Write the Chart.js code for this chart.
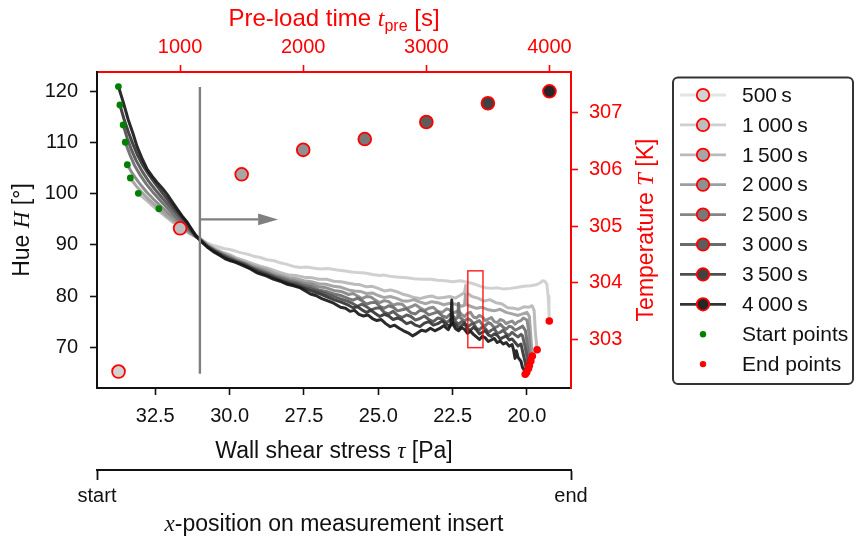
<!DOCTYPE html>
<html>
<head>
<meta charset="utf-8">
<script src="https://cdn.jsdelivr.net/npm/chart.js@4.4.1/dist/chart.umd.min.js"></script>
<style>
html,body{margin:0;padding:0;background:#fff;}
canvas{display:block;}
</style>
</head>
<body>
<canvas id="c" width="856" height="540"></canvas>
<script>
// ---------------- DATA ----------------
const preloadTimes = [500, 1000, 1500, 2000, 2500, 3000, 3500, 4000];
const temperatures = [302.44, 304.96, 305.91, 306.34, 306.53, 306.83, 307.16, 307.37];

const tauTicks = [32.5, 30.0, 27.5, 25.0, 22.5, 20.0];
const hueTicks = [70, 80, 90, 100, 110, 120];
const timeTicks = [1000, 2000, 3000, 4000];
const tempTicks = [303, 304, 305, 306, 307];
const posTicks = [0, 1];
const posLabels = ['start', 'end'];

// Hue curves: [wall shear stress tau (Pa), hue H (deg)]
const curve500 = [[32.38,97.1],[32.15,96.0],[31.9,94.9],[31.66,93.8],[31.4,92.6],[31.15,91.7],[31.0,91.2],[30.8,90.5],[30.6,90.0],[30.42,89.7],[30.2,89.3],[30.0,89.1],[29.8,88.8],[29.64,88.5],[29.4,88.2],[29.2,87.8],[29.0,87.6],[28.74,87.1],[28.5,86.9],[28.3,86.5],[28.07,86.2],[27.85,85.8],[27.62,85.6],[27.4,85.7],[27.2,85.5],[26.95,85.3],[26.7,85.4],[26.38,85.1],[26.1,84.9],[25.9,84.7],[25.71,84.6],[25.45,84.5],[25.2,84.2],[24.95,84.0],[24.82,84.1],[24.55,83.8],[24.3,83.7],[24.03,83.6],[23.8,83.4],[23.5,83.3],[23.24,83.3],[23.0,83.1],[22.75,83.0],[22.5,82.8],[22.25,83.0],[22.0,82.7],[21.8,82.4],[21.6,82.0],[21.4,81.6],[21.22,81.5],[21.0,81.6],[20.8,81.4],[20.55,81.5],[20.3,81.7],[20.1,81.9],[19.88,82.0],[19.7,82.2],[19.55,82.6],[19.48,83.0],[19.4,82.9],[19.33,82.3],[19.29,80.0],[19.26,77.0],[19.25,75.1]];
const curve1000 = [[33.07,100.1],[32.85,99.0],[32.6,97.7],[32.35,96.5],[32.1,95.3],[31.85,94.2],[31.6,93.2],[31.35,92.2],[31.15,91.7],[31.0,91.3],[30.75,90.2],[30.5,89.3],[30.25,88.6],[30.0,88.1],[29.75,87.4],[29.5,86.9],[29.25,86.4],[29.0,85.9],[28.75,85.5],[28.5,85.0],[28.25,84.5],[28.0,84.1],[27.75,84.0],[27.5,83.7],[27.25,83.6],[27.0,83.3],[26.75,83.3],[26.5,82.9],[26.25,82.8],[26.0,82.5],[25.8,82.3],[25.6,82.2],[25.4,81.8],[25.2,81.9],[25.0,81.5],[24.8,81.0],[24.6,81.2],[24.4,80.9],[24.2,80.4],[24.0,80.1],[23.8,79.7],[23.6,79.5],[23.4,79.8],[23.2,80.0],[23.0,79.6],[22.8,79.7],[22.6,79.9],[22.4,79.6],[22.2,80.3],[22.1,80.7],[22.06,82.1],[22.02,80.6],[21.85,79.9],[21.65,79.6],[21.45,79.0],[21.25,79.3],[21.05,78.7],[20.85,78.5],[20.65,77.7],[20.45,77.6],[20.3,77.4],[20.1,77.9],[19.95,77.8],[19.83,78.1],[19.76,77.2],[19.72,73.0],[19.66,69.5]];
const curve1500 = [[33.34,103.1],[33.15,101.6],[32.95,100.3],[32.7,98.8],[32.45,97.5],[32.2,96.2],[31.95,95.0],[31.7,93.9],[31.45,92.8],[31.2,91.8],[31.0,91.2],[30.75,90.0],[30.5,89.1],[30.25,88.4],[30.0,87.8],[29.75,87.1],[29.5,86.6],[29.25,86.0],[29.0,85.5],[28.75,85.1],[28.5,84.5],[28.25,84.0],[28.0,83.6],[27.75,83.4],[27.5,83.0],[27.25,82.8],[27.0,82.4],[26.75,82.3],[26.5,81.9],[26.25,81.7],[26.0,81.2],[25.8,81.0],[25.6,80.9],[25.4,80.5],[25.2,80.6],[25.0,80.1],[24.8,79.7],[24.6,79.9],[24.4,79.6],[24.2,79.1],[24.0,79.0],[23.8,79.3],[23.6,78.8],[23.4,78.5],[23.2,78.9],[23.0,78.7],[22.8,78.3],[22.6,78.6],[22.4,78.4],[22.2,78.0],[22.1,78.2],[22.07,80.3],[22.03,78.3],[21.9,78.0],[21.7,77.6],[21.5,77.8],[21.3,77.3],[21.1,77.1],[20.9,77.4],[20.7,76.8],[20.5,76.5],[20.3,76.2],[20.15,76.5],[20.0,76.8],[19.92,76.0],[19.87,72.0],[19.82,68.25]];
const curve2000 = [[33.44,105.7],[33.25,103.8],[33.05,102.2],[32.8,100.4],[32.55,98.9],[32.3,97.5],[32.05,96.2],[31.8,94.9],[31.55,93.6],[31.3,92.4],[31.15,91.7],[31.0,91.2],[30.75,89.9],[30.5,89.0],[30.25,88.2],[30.0,87.6],[29.75,86.9],[29.5,86.4],[29.25,85.7],[29.0,85.2],[28.75,84.7],[28.5,84.1],[28.25,83.7],[28.0,83.2],[27.75,82.9],[27.5,82.5],[27.25,82.3],[27.0,81.8],[26.75,81.6],[26.5,81.1],[26.25,80.9],[26.0,80.3],[25.85,80.5],[25.7,80.0],[25.55,79.5],[25.4,79.9],[25.25,79.8],[25.1,79.2],[24.95,78.7],[24.8,79.1],[24.65,78.9],[24.5,78.2],[24.35,78.5],[24.2,78.4],[24.05,77.6],[23.9,77.9],[23.75,78.3],[23.6,77.7],[23.45,77.2],[23.3,77.6],[23.15,77.8],[23.0,77.0],[22.85,76.8],[22.7,77.5],[22.6,77.3],[22.5,76.6],[22.4,76.9],[22.3,77.1],[22.2,76.4],[22.1,76.0],[22.0,76.6],[21.9,76.8],[21.8,75.9],[21.7,75.7],[21.6,76.2],[21.5,75.9],[21.4,75.2],[21.3,75.5],[21.2,75.8],[21.1,75.0],[21.0,74.8],[20.9,75.4],[20.8,75.2],[20.7,74.6],[20.6,74.9],[20.5,75.1],[20.4,74.5],[20.3,75.0],[20.2,75.2],[20.12,75.7],[20.0,75.3],[19.94,73.0],[19.9,69.5],[19.87,67.3]];
const curve2500 = [[33.51,110.1],[33.35,107.6],[33.2,105.6],[33.0,103.6],[32.8,101.9],[32.55,100.1],[32.3,98.5],[32.05,97.0],[31.8,95.5],[31.55,94.0],[31.3,92.6],[31.15,91.7],[31.0,91.1],[30.75,89.8],[30.5,88.9],[30.25,88.1],[30.0,87.4],[29.75,86.8],[29.5,86.3],[29.25,85.6],[29.0,85.0],[28.75,84.5],[28.5,83.9],[28.25,83.4],[28.0,82.9],[27.75,82.6],[27.5,82.1],[27.25,81.8],[27.0,81.2],[26.75,80.9],[26.5,80.4],[26.25,80.1],[26.0,79.5],[25.85,79.2],[25.7,79.6],[25.55,79.1],[25.4,78.4],[25.25,78.7],[25.1,78.8],[24.95,78.0],[24.8,77.6],[24.65,78.1],[24.5,77.8],[24.35,77.1],[24.2,77.3],[24.05,77.5],[23.9,76.7],[23.75,76.5],[23.6,77.2],[23.45,77.0],[23.3,76.3],[23.15,76.6],[23.0,76.9],[22.85,76.1],[22.7,75.8],[22.6,76.4],[22.5,76.2],[22.4,75.5],[22.33,75.8],[22.3,78.6],[22.27,75.9],[22.2,75.6],[22.1,75.1],[22.0,75.6],[21.9,75.3],[21.8,74.6],[21.7,74.9],[21.6,75.2],[21.5,74.4],[21.4,74.2],[21.3,74.8],[21.2,74.5],[21.1,73.8],[21.0,74.0],[20.9,74.5],[20.8,73.9],[20.7,73.5],[20.6,74.1],[20.5,73.9],[20.4,73.3],[20.3,73.6],[20.2,73.9],[20.15,74.1],[20.05,73.2],[19.97,69.5],[19.92,66.4]];
const curve3000 = [[33.58,113.5],[33.45,111.0],[33.3,108.6],[33.15,106.6],[32.95,104.5],[32.75,102.7],[32.5,100.8],[32.25,99.1],[32.0,97.5],[31.75,95.9],[31.5,94.3],[31.3,92.9],[31.15,91.8],[31.0,91.1],[30.75,89.7],[30.5,88.8],[30.25,88.0],[30.0,87.3],[29.75,86.7],[29.5,86.2],[29.25,85.4],[29.0,84.8],[28.75,84.3],[28.5,83.7],[28.25,83.1],[28.0,82.6],[27.75,82.3],[27.5,81.8],[27.25,81.4],[27.0,80.9],[26.75,80.4],[26.5,79.9],[26.25,79.4],[26.0,78.9],[25.85,78.5],[25.7,78.0],[25.55,78.4],[25.4,77.9],[25.25,77.3],[25.1,77.6],[24.95,77.7],[24.8,76.8],[24.65,76.5],[24.5,77.0],[24.35,76.2],[24.2,75.8],[24.05,76.3],[23.9,76.0],[23.75,75.3],[23.6,75.6],[23.45,76.1],[23.3,75.4],[23.15,75.0],[23.0,75.7],[22.85,75.5],[22.7,74.8],[22.6,75.3],[22.5,75.9],[22.4,75.0],[22.3,74.5],[22.2,75.0],[22.1,74.8],[22.0,74.0],[21.9,74.4],[21.8,74.6],[21.7,73.7],[21.6,73.4],[21.5,74.0],[21.4,73.6],[21.3,72.9],[21.2,73.3],[21.1,73.6],[21.0,72.7],[20.9,72.9],[20.8,73.3],[20.7,72.6],[20.6,72.3],[20.5,72.9],[20.4,72.4],[20.3,72.0],[20.2,72.5],[20.15,72.2],[20.08,70.5],[19.99,67.8],[19.95,65.8]];
const curve3500 = [[33.69,117.4],[33.55,114.6],[33.4,112.0],[33.25,109.7],[33.1,107.6],[32.9,105.4],[32.7,103.6],[32.5,102.0],[32.25,100.1],[32.0,98.3],[31.75,96.5],[31.5,94.8],[31.3,93.3],[31.15,92.0],[31.0,91.0],[30.75,89.6],[30.5,88.7],[30.25,87.8],[30.0,87.1],[29.75,86.6],[29.5,86.0],[29.25,85.3],[29.0,84.6],[28.75,84.1],[28.5,83.5],[28.25,82.9],[28.0,82.4],[27.75,82.0],[27.5,81.5],[27.25,81.0],[27.0,80.5],[26.75,79.9],[26.5,79.3],[26.25,78.8],[26.0,78.2],[25.85,77.7],[25.7,77.9],[25.55,77.3],[25.4,76.8],[25.25,77.2],[25.1,76.6],[24.95,76.0],[24.8,76.4],[24.65,76.1],[24.5,75.4],[24.35,75.7],[24.2,75.3],[24.05,74.6],[23.9,74.9],[23.75,74.3],[23.6,74.0],[23.45,74.7],[23.3,75.0],[23.15,74.3],[23.0,74.6],[22.85,75.1],[22.7,74.4],[22.6,74.1],[22.5,74.8],[22.4,74.5],[22.3,73.7],[22.2,74.2],[22.1,74.6],[22.0,73.6],[21.9,73.3],[21.8,73.9],[21.7,73.4],[21.6,72.6],[21.5,72.9],[21.4,73.2],[21.3,72.4],[21.2,72.1],[21.1,72.6],[21.0,72.3],[20.9,71.6],[20.8,71.9],[20.7,72.2],[20.6,71.4],[20.5,71.6],[20.4,70.9],[20.3,70.2],[20.2,70.6],[20.15,69.2],[20.06,67.0],[20.01,65.1]];
const curve4000 = [[33.74,121.0],[33.58,118.0],[33.41,114.5],[33.25,111.8],[33.11,109.2],[32.95,107.0],[32.77,104.8],[32.6,103.4],[32.43,102.2],[32.25,101.0],[32.1,99.9],[31.9,98.2],[31.76,97.0],[31.6,95.7],[31.42,94.4],[31.25,92.7],[31.1,91.5],[30.92,90.5],[30.75,89.6],[30.55,88.7],[30.31,87.9],[30.15,87.3],[29.97,86.9],[29.8,86.6],[29.64,86.2],[29.45,85.7],[29.3,85.3],[29.1,84.6],[28.96,84.3],[28.75,83.9],[28.53,83.3],[28.3,82.9],[28.06,82.3],[27.85,82.0],[27.62,81.6],[27.45,81.0],[27.28,80.4],[27.1,80.1],[26.9,79.5],[26.72,79.1],[26.5,78.6],[26.27,77.8],[26.1,77.6],[25.95,77.0],[25.8,77.2],[25.65,76.4],[25.5,76.1],[25.35,76.3],[25.2,75.6],[25.05,75.2],[24.9,75.4],[24.75,74.6],[24.6,74.0],[24.45,74.3],[24.3,73.7],[24.15,73.2],[24.0,72.8],[23.85,72.2],[23.7,72.7],[23.55,73.3],[23.4,73.1],[23.25,73.7],[23.1,73.2],[22.95,73.6],[22.8,74.2],[22.65,73.4],[22.56,74.4],[22.53,79.2],[22.5,74.6],[22.4,73.6],[22.3,73.2],[22.2,73.8],[22.1,73.5],[22.0,72.7],[21.9,73.1],[21.8,72.5],[21.7,72.0],[21.6,71.5],[21.5,72.1],[21.4,71.8],[21.3,71.1],[21.2,71.4],[21.1,71.7],[21.0,70.9],[20.9,71.2],[20.8,70.6],[20.7,70.9],[20.6,70.2],[20.5,70.5],[20.45,69.4],[20.4,67.8],[20.36,69.3],[20.3,68.0],[20.2,67.2],[20.15,66.0],[20.1,65.6],[20.06,64.7]];

// annotations in data units
const guideTau = 31.0;            // vertical guide line position
const guideHue = [120.9, 64.8];   // vertical guide extent
const arrowTau = [31.0, 28.37];   // arrow from -> to
const arrowHue = 95.0;
const boxTau = [21.99, 21.48];    // highlighted window
const boxHue = [84.93, 69.9];

// ---------------- STYLE ----------------
const SANS = '"Liberation Sans", Arial, sans-serif';
const SERIF = '"Liberation Serif", "Times New Roman", serif';
const RED = '#ff0000';
const lineColors = ['rgba(205,205,205,0.92)','rgba(182,182,182,0.92)','rgba(158,158,158,0.92)','rgba(132,132,132,0.92)','rgba(106,106,106,0.92)','rgba(80,80,80,0.92)','rgba(52,52,52,0.92)','rgba(24,24,24,0.92)'];
const legendLineColors = ['#e3e3e3','#cfcfcf','#bababa','#9e9e9e','#858585','#6a6a6a','#4e4e4e','#333333'];
const faceColors = ['#d2d2d2','#bdbdbd','#a6a6a6','#909090','#787878','#5d5d5d','#414141','#262626'];

const curves = [curve500, curve1000, curve1500, curve2000, curve2500, curve3000, curve3500, curve4000];
const fmtTime = t => String(t).replace(/\B(?=(\d{3})+(?!\d))/g, '\u2009') + '\u2009s';

const datasets = [];
curves.forEach((c, i) => {
  datasets.push({
    label: fmtTime(preloadTimes[i]),
    data: c.map(([x, y]) => ({x, y})),
    xAxisID: 'x', yAxisID: 'y',
    showLine: true, pointRadius: 0, borderColor: lineColors[i], borderWidth: 3,
    borderJoinStyle: 'round', borderCapStyle: 'round', tension: 0,
    order: 10 - i
  });
});
datasets.push({
  label: 'Start points',
  data: curves.map(c => ({x: c[0][0], y: c[0][1]})),
  xAxisID: 'x', yAxisID: 'y', pointRadius: 3.4, pointBackgroundColor: '#008000', pointBorderWidth: 0, order: 1
});
datasets.push({
  label: 'End points',
  data: curves.map(c => ({x: c[c.length - 1][0], y: c[c.length - 1][1]})),
  xAxisID: 'x', yAxisID: 'y', pointRadius: 3.8, pointBackgroundColor: RED, pointBorderWidth: 0, order: 1
});
datasets.push({
  label: 'Temperature',
  data: preloadTimes.map((t, i) => ({x: t, y: temperatures[i]})),
  xAxisID: 'xt', yAxisID: 'yr', pointRadius: 6.4, pointBackgroundColor: faceColors,
  pointBorderColor: RED, pointBorderWidth: 1.8, order: 0
});

function fixedTicks(arr) { return scale => { scale.ticks = arr.map(v => ({value: v})); }; }

function axis(opts) {
  const col = opts.color;
  return Object.assign({
    type: 'linear',
    grid: { display: true, drawOnChartArea: false, drawTicks: true, tickLength: 7, tickWidth: 1.6, tickColor: col, color: col },
    border: { display: true, color: col, width: 2 },
    ticks: { color: col, font: { family: SANS, size: 20 }, autoSkip: false, maxRotation: 0, padding: 8 }
  }, opts.base);
}

function drawRich(ctx, parts, x, y, rot, color) {
  ctx.save();
  ctx.translate(x, y);
  ctx.rotate(rot);
  ctx.fillStyle = color;
  ctx.textBaseline = 'alphabetic';
  ctx.textAlign = 'left';
  let total = 0;
  parts.forEach(p => { ctx.font = p.font; p.w = ctx.measureText(p.text).width; total += p.w; });
  let cx = -total / 2;
  parts.forEach(p => { ctx.font = p.font; ctx.fillText(p.text, cx, p.dy || 0); cx += p.w; });
  ctx.restore();
}

const decor = {
  id: 'decor',
  afterDatasetsDraw(chart) {
    const {ctx, chartArea: a, scales: {x, y}} = chart;
    ctx.save();
    ctx.beginPath(); ctx.rect(a.left, a.top, a.right - a.left, a.bottom - a.top); ctx.clip();
    // vertical guide
    ctx.strokeStyle = '#808080'; ctx.lineWidth = 2.4; ctx.lineCap = 'butt';
    const gx = x.getPixelForValue(guideTau);
    ctx.beginPath(); ctx.moveTo(gx, y.getPixelForValue(guideHue[0])); ctx.lineTo(gx, y.getPixelForValue(guideHue[1])); ctx.stroke();
    // arrow
    const ax0 = x.getPixelForValue(arrowTau[0]), ax1 = x.getPixelForValue(arrowTau[1]), ay = y.getPixelForValue(arrowHue);
    const head = 20;
    ctx.beginPath(); ctx.moveTo(ax0, ay); ctx.lineTo(ax1 - head, ay); ctx.stroke();
    ctx.fillStyle = '#808080';
    ctx.beginPath(); ctx.moveTo(ax1, ay); ctx.lineTo(ax1 - head, ay - 5.8); ctx.lineTo(ax1 - head, ay + 5.8); ctx.closePath(); ctx.fill();
    // highlight box
    ctx.strokeStyle = 'rgba(255,0,0,0.85)'; ctx.lineWidth = 1.5;
    const bx0 = x.getPixelForValue(boxTau[0]), bx1 = x.getPixelForValue(boxTau[1]);
    const by0 = y.getPixelForValue(boxHue[0]), by1 = y.getPixelForValue(boxHue[1]);
    ctx.strokeRect(bx0, by0, bx1 - bx0, by1 - by0);
    ctx.restore();
  },
  afterDraw(chart) {
    const {ctx, chartArea: a} = chart;
    const cxm = (a.left + a.right) / 2, cym = (a.top + a.bottom) / 2;
    const F = 23;
    // axis titles
    drawRich(ctx, [{text: 'Wall shear stress ', font: `${F}px ${SANS}`}, {text: 'τ', font: `italic ${F}px ${SERIF}`}, {text: ' [Pa]', font: `${F}px ${SANS}`}], cxm, 458, 0, '#111');
    drawRich(ctx, [{text: 'x', font: `italic ${F}px ${SERIF}`}, {text: '-position on measurement insert', font: `${F}px ${SANS}`}], cxm, 531, 0, '#111');
    drawRich(ctx, [{text: 'Pre-load time ', font: `24px ${SANS}`}, {text: 't', font: `italic 24px ${SERIF}`}, {text: 'pre', font: `16px ${SANS}`, dy: 5}, {text: ' [s]', font: `24px ${SANS}`}], cxm, 26, 0, RED);
    drawRich(ctx, [{text: 'Hue ', font: `${F}px ${SANS}`}, {text: 'H', font: `italic ${F}px ${SERIF}`}, {text: ' [°]', font: `${F}px ${SANS}`}], 29, cym, -Math.PI / 2, '#111');
    drawRich(ctx, [{text: 'Temperature ', font: `${F}px ${SANS}`}, {text: 'T', font: `italic ${F}px ${SERIF}`}, {text: ' [K]', font: `${F}px ${SANS}`}], 653, cym, -Math.PI / 2, RED);

    // legend
    ctx.save();
    const L = 673, T = 77.5, W = 180, H = 306.5, r = 5;
    ctx.fillStyle = '#fff'; ctx.strokeStyle = '#333'; ctx.lineWidth = 2;
    ctx.beginPath(); ctx.roundRect(L, T, W, H, r); ctx.fill(); ctx.stroke();
    const rowY = i => 95 + i * 29.9;
    ctx.font = `21px ${SANS}`; ctx.textBaseline = 'middle'; ctx.textAlign = 'left';
    preloadTimes.forEach((t, i) => {
      const yy = rowY(i);
      ctx.strokeStyle = legendLineColors[i]; ctx.lineWidth = 2.8; ctx.lineCap = 'butt';
      ctx.beginPath(); ctx.moveTo(680, yy); ctx.lineTo(726, yy); ctx.stroke();
      ctx.beginPath(); ctx.arc(703, yy, 6.2, 0, Math.PI * 2);
      ctx.fillStyle = faceColors[i]; ctx.fill();
      ctx.strokeStyle = RED; ctx.lineWidth = 1.8; ctx.stroke();
      ctx.fillStyle = '#111'; ctx.fillText(fmtTime(t), 742, yy + 1);
    });
    [['Start points', '#008000'], ['End points', RED]].forEach(([lab, col], k) => {
      const yy = rowY(8 + k);
      ctx.beginPath(); ctx.arc(703, yy, 3.2, 0, Math.PI * 2); ctx.fillStyle = col; ctx.fill();
      ctx.fillStyle = '#111'; ctx.fillText(lab, 742, yy + 1);
    });
    ctx.restore();
  }
};

new Chart(document.getElementById('c'), {
  type: 'scatter',
  data: { datasets },
  options: {
    responsive: false, animation: false, devicePixelRatio: 1,
    layout: { padding: 0 },
    plugins: { legend: { display: false }, tooltip: { enabled: false } },
    scales: {
      x: axis({ color: '#111', base: {
        position: 'bottom', reverse: true, min: 18.52, max: 34.46, weight: 0,
        afterBuildTicks: fixedTicks(tauTicks), afterFit: s => { s.height = 82; },
        ticks: { color: '#111', font: { family: SANS, size: 20 }, autoSkip: false, maxRotation: 0, padding: 9, callback: v => v.toFixed(1) }
      }}),
      xpos: axis({ color: '#111', base: {
        position: 'bottom', min: 0, max: 1, weight: 1,
        afterBuildTicks: fixedTicks(posTicks), afterFit: s => { s.height = 70; },
        grid: { display: true, drawOnChartArea: false, drawTicks: true, tickLength: 10, tickWidth: 1.8, tickColor: '#111', color: '#111' },
        ticks: { color: '#111', font: { family: SANS, size: 20 }, autoSkip: false, maxRotation: 0, padding: 4, callback: (v, i) => posLabels[i] }
      }}),
      xt: axis({ color: RED, base: {
        position: 'top', min: 325, max: 4175,
        afterBuildTicks: fixedTicks(timeTicks), afterFit: s => { s.height = 72; },
        ticks: { color: RED, font: { family: SANS, size: 20 }, autoSkip: false, maxRotation: 0, padding: 6, callback: v => String(v) }
      }}),
      y: axis({ color: '#111', base: {
        position: 'left', min: 62.0, max: 123.85,
        afterBuildTicks: fixedTicks(hueTicks), afterFit: s => { s.width = 97; },
        ticks: { color: '#111', font: { family: SANS, size: 20 }, autoSkip: false, padding: 12, callback: v => String(v) }
      }}),
      yr: axis({ color: RED, base: {
        position: 'right', min: 302.15, max: 307.71,
        afterBuildTicks: fixedTicks(tempTicks), afterFit: s => { s.width = 285; },
        ticks: { color: RED, font: { family: SANS, size: 20 }, autoSkip: false, padding: 11, callback: v => String(v) }
      }})
    }
  },
  plugins: [decor]
});
</script>
</body>
</html>
